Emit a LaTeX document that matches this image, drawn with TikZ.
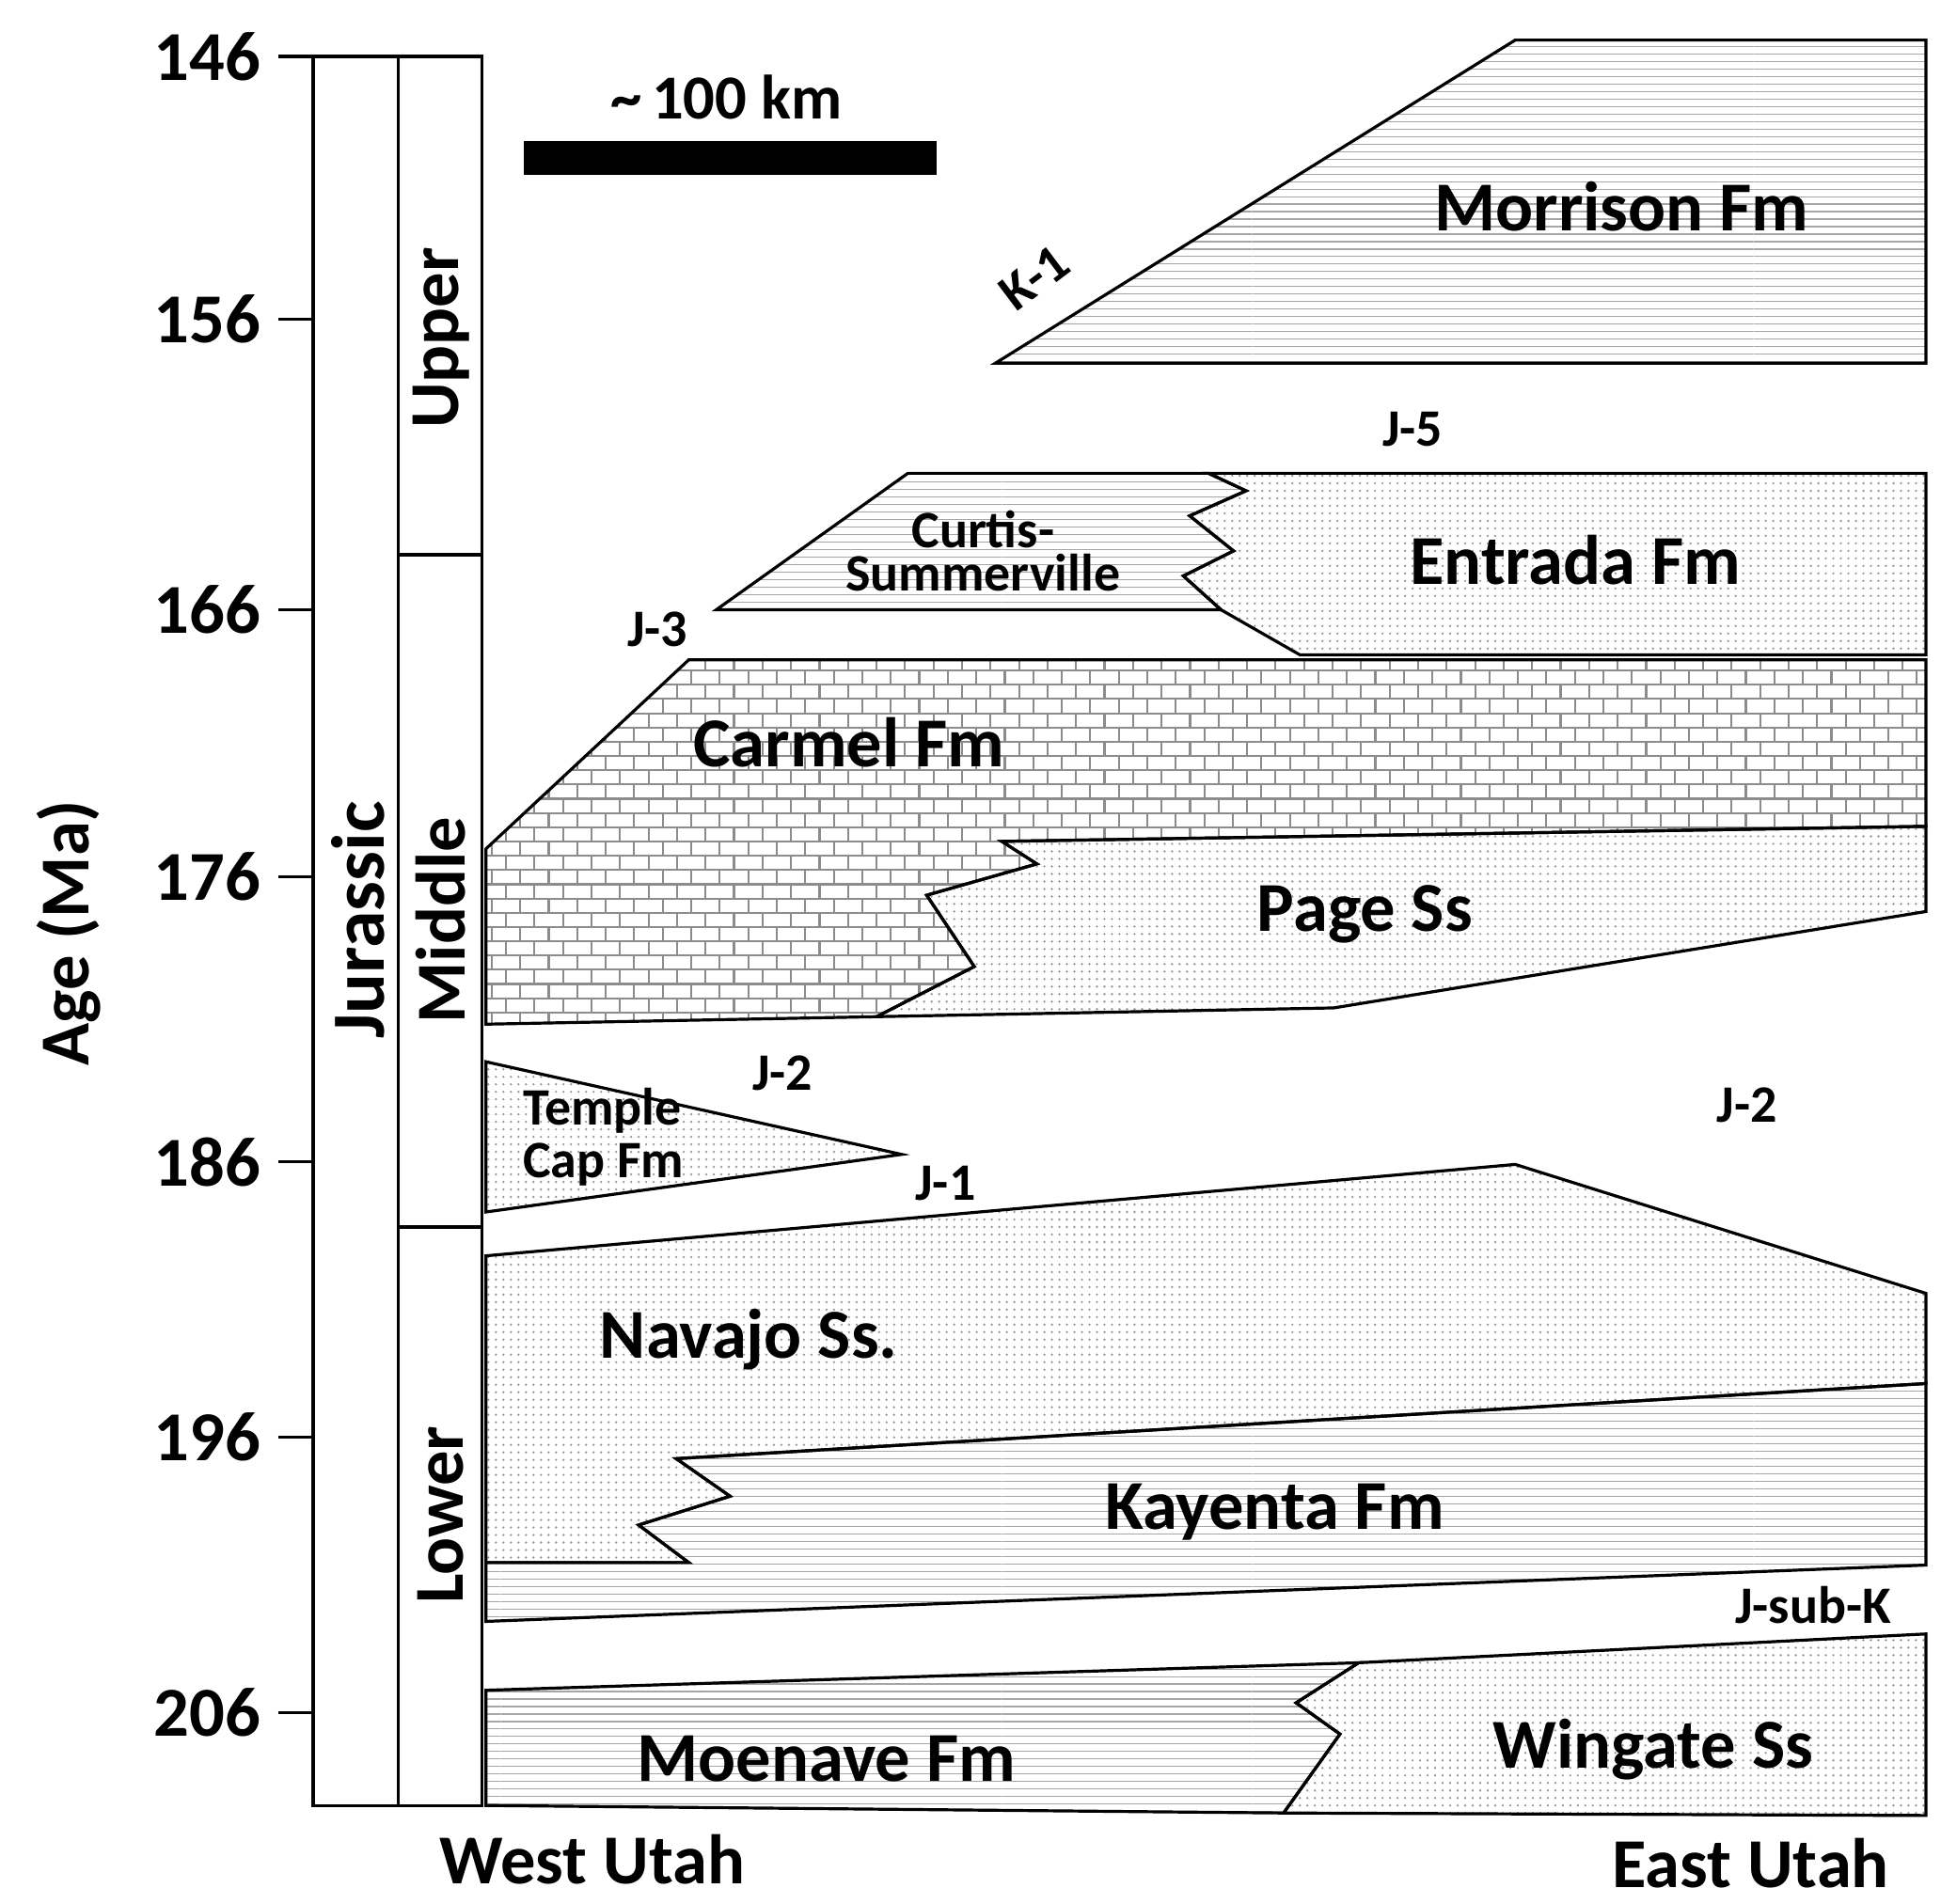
\documentclass[tikz,border=0pt]{standalone}
\usepackage{fontspec}
\setmainfont{Carlito}
\usetikzlibrary{patterns}
\begin{document}
\begin{tikzpicture}[x=0.5pt,y=-0.5pt,
  bd/.style={draw=black,line width=1.2pt},
  shale/.style={bd,pattern={horizontal lines},pattern color=black!35},
  lime/.style={bd,pattern=bricks,pattern color=black!45},
  sand/.style={bd,pattern=dots,pattern color=black!40},
  big/.style={font=\fontsize{28}{30}\selectfont\bfseries},
  mid/.style={font=\fontsize{25}{27}\selectfont\bfseries},
  sml/.style={font=\fontsize{21}{23}\selectfont\bfseries}]
\useasboundingbox (0,0) rectangle (1550,1520);
% columns
\draw[bd] (250,45) rectangle (318,1442);
\draw[bd] (318,45) rectangle (385,1442);
\draw[bd] (318,443) -- (385,443);
\draw[bd] (318,980) -- (385,980);
\foreach \y/\t in {45/146,255/156,487/166,700/176,928/186,1148/196,1368/206}{
  \draw[bd] (222,\y) -- (250,\y);
  \node[big,anchor=east] (t\t) at (215,\y) {\t};}
\node[big,rotate=90] (age) at (55,745) {Age (Ma)};
\node[big,rotate=90,font=\fontsize{30}{32}\selectfont\bfseries] (jur) at (286,735) {Jurassic};
\node[big,rotate=90] (up) at (352,270) {Upper};
\node[big,rotate=90] (md) at (352,735) {Middle};
\node[big,rotate=90] (lw) at (352,1210) {Lower};
% scale
\fill (418,113) rectangle (748,140);
\node[mid] (km) at (580,78) {\textasciitilde\,100 km};
% Morrison
\draw[shale] (795,290) -- (1210,32) -- (1538,32) -- (1538,290) -- cycle;
\node[big] (mor) at (1295,165) {Morrison Fm};
\node[sml,rotate=37,inner sep=1pt] (k1) at (826,222) {K-1};
\node[sml] (j5) at (1128,343) {J-5};
% Curtis / Entrada
\draw[sand] (965,378) -- (1538,378) -- (1538,523) -- (1038,523) -- (975,487) -- (945,460) -- (985,440) -- (950,412) -- (995,392) -- cycle;
\draw[shale] (572,487) -- (725,378) -- (965,378) -- (995,392) -- (950,412) -- (985,440) -- (945,460) -- (975,487) -- cycle;
\node[sml,align=center,inner sep=0] (cs) at (785,440) {Curtis-\\[-6pt]Summerville};
\node[big] (ent) at (1258,447) {Entrada Fm};
\node[sml] (j3) at (525,503) {J-3};
% Carmel / Page
\draw[lime] (388,678) -- (550,527) -- (1538,527) -- (1538,660) -- (800,672) -- (828,690) -- (740,715) -- (778,772) -- (700,812) -- (388,818) -- cycle;
\draw[sand] (800,672) -- (1538,660) -- (1538,728) -- (1065,805) -- (700,812) -- (778,772) -- (740,715) -- (828,690) -- cycle;
\node[big] (car) at (678,593) {Carmel Fm};
\node[big] (pg) at (1090,730) {Page Ss};
\node[sml] (j2a) at (625,857) {J-2};
\node[sml] (j2b) at (1395,883) {J-2};
% Temple Cap
\draw[sand] (388,848) -- (720,922) -- (388,968) -- cycle;
\node[sml,align=left,inner sep=0] (tc) at (482,908) {Temple\\[-2pt]Cap Fm};
\node[sml] (j1) at (755,945) {J-1};
% Navajo / Kayenta
\draw[sand] (388,1003) -- (1210,930) -- (1538,1033) -- (1538,1105) -- (540,1165) -- (583,1195) -- (510,1218) -- (550,1248) -- (388,1248) -- cycle;
\draw[shale] (540,1165) -- (1538,1105) -- (1538,1250) -- (388,1295) -- (388,1248) -- (550,1248) -- (510,1218) -- (583,1195) -- cycle;
\node[big] (nav) at (598,1070) {Navajo Ss.};
\node[big] (kay) at (1018,1208) {Kayenta Fm};
\node[sml] (jsk) at (1448,1282) {J-sub-K};
% Moenave / Wingate
\draw[shale] (388,1350) -- (1085,1328) -- (1035,1360) -- (1070,1385) -- (1025,1448) -- (388,1442) -- cycle;
\draw[sand] (1085,1328) -- (1538,1305) -- (1538,1450) -- (1025,1448) -- (1070,1385) -- (1035,1360) -- cycle;
\node[big] (moe) at (660,1405) {Moenave Fm};
\node[big] (win) at (1320,1397) {Wingate Ss};
\node[big] (wu) at (473,1485) {West Utah};
\node[big] (eu) at (1398,1488) {East Utah};
\end{tikzpicture}
\end{document}
